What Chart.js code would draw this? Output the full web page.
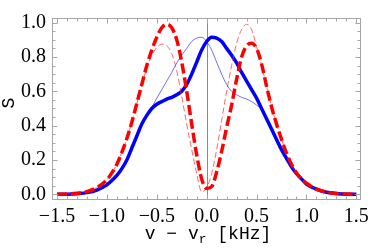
<!DOCTYPE html>
<html>
<head>
<meta charset="utf-8">
<script src="https://cdn.jsdelivr.net/npm/chart.js@4.4.0/dist/chart.umd.min.js"></script>
<style>
    html, body { margin: 0; padding: 0; background: #fff; }
    #wrap { width: 374px; height: 249px; }
</style>
</head>
<body>
<div id="wrap"><canvas id="chart"></canvas></div>
<script>
// detuning v - v_r in kHz
const xs = [-1.5, -1.4, -1.3, -1.2, -1.1,
    -1.0, -0.95, -0.9, -0.85, -0.8, -0.75, -0.7, -0.65, -0.6, -0.55, -0.5, -0.45, -0.4, -0.35, -0.3, -0.25, -0.2, -0.15, -0.1, -0.05,
    0,
    0.05, 0.1, 0.15, 0.2, 0.25, 0.3, 0.35, 0.4, 0.45, 0.5, 0.55, 0.6, 0.65, 0.7, 0.75, 0.8, 0.85, 0.9, 0.95, 1.0,
    1.1, 1.2, 1.3, 1.4, 1.5];

const blueThick = [0, 0.001, 0.004, 0.01, 0.025,
    0.055, 0.08, 0.11, 0.15, 0.20, 0.27, 0.34, 0.41, 0.46, 0.50, 0.525, 0.54, 0.555, 0.565, 0.58, 0.60, 0.64, 0.70, 0.77, 0.84,
    0.89,
    0.915, 0.91, 0.89, 0.85, 0.81, 0.765, 0.71, 0.66, 0.61, 0.56, 0.50, 0.44, 0.38, 0.32, 0.26, 0.21, 0.16, 0.12, 0.09, 0.06,
    0.03, 0.012, 0.005, 0.001, 0];

const blueThin = [0, 0.001, 0.004, 0.01, 0.025,
    0.055, 0.08, 0.11, 0.15, 0.20, 0.27, 0.34, 0.41, 0.46, 0.505, 0.56, 0.61, 0.66, 0.71, 0.765, 0.81, 0.85, 0.89, 0.91, 0.915,
    0.89,
    0.84, 0.77, 0.70, 0.64, 0.60, 0.58, 0.565, 0.555, 0.54, 0.52, 0.495, 0.44, 0.38, 0.32, 0.26, 0.21, 0.16, 0.12, 0.09, 0.06,
    0.03, 0.012, 0.005, 0.001, 0];

const redThick = [0, 0.002, 0.006, 0.016, 0.04,
    0.085, 0.125, 0.175, 0.245, 0.325, 0.42, 0.53, 0.64, 0.75, 0.84, 0.915, 0.97, 0.99, 0.97, 0.90, 0.77, 0.60, 0.41, 0.23, 0.09,
    0.035,
    0.045, 0.13, 0.25, 0.39, 0.52, 0.67, 0.80, 0.865, 0.88, 0.85, 0.76, 0.63, 0.51, 0.41, 0.32, 0.24, 0.175, 0.125, 0.09, 0.065,
    0.03, 0.013, 0.005, 0.002, 0];

const redThin = [0, 0.002, 0.006, 0.016, 0.04,
    0.085, 0.125, 0.175, 0.245, 0.325, 0.42, 0.53, 0.635, 0.735, 0.81, 0.855, 0.875, 0.865, 0.82, 0.72, 0.57, 0.41, 0.26, 0.12, 0.015,
    0.04,
    0.12, 0.26, 0.43, 0.60, 0.75, 0.88, 0.96, 0.99, 0.96, 0.86, 0.75, 0.63, 0.51, 0.41, 0.32, 0.24, 0.175, 0.125, 0.09, 0.065,
    0.03, 0.013, 0.005, 0.002, 0];

const xTicks = [-1.5, -1.0, -0.5, 0, 0.5, 1.0, 1.5];
const yTicks = [0, 0.2, 0.4, 0.6, 0.8, 1.0];

function toPoints(values) {
    return values.map((v, i) => ({ x: xs[i], y: v }));
}

function fmt(v) {
    if (Math.abs(v) < 1e-9) return '0.0';
    return (v < 0 ? '\u2212' : '') + Math.abs(v).toFixed(1);
}

// Mathematica style frame: grey box, ticks pointing inwards, zero line
const framePlugin = {
    id: 'frame',
    beforeDatasetsDraw(chart) {
        const { ctx, chartArea: a, scales: { x } } = chart;
        const x0 = Math.round(x.getPixelForValue(0)) + 0.5;
        ctx.save();
        ctx.strokeStyle = '#8a8a8a';
        ctx.lineWidth = 1;
        ctx.beginPath();
        ctx.moveTo(x0, a.top);
        ctx.lineTo(x0, a.bottom);
        ctx.stroke();
        ctx.restore();
    },
    afterDraw(chart) {
        const { ctx, chartArea: a, scales: { x, y } } = chart;
        ctx.save();
        ctx.strokeStyle = '#a6a6a6';
        ctx.lineWidth = 1;
        const L = Math.round(a.left) + 0.5, R = Math.round(a.right) - 0.5;
        const T = Math.round(a.top) + 0.5, B = Math.round(a.bottom) - 0.5;
        ctx.strokeRect(L, T, R - L, B - T);

        ctx.beginPath();
        for (let i = -15; i <= 15; i++) {
            const px = Math.round(x.getPixelForValue(i / 10)) + 0.5;
            const len = i % 5 === 0 ? 5 : 3;
            ctx.moveTo(px, B); ctx.lineTo(px, B - len);
            ctx.moveTo(px, T); ctx.lineTo(px, T + len);
        }
        for (let i = 0; i <= 20; i++) {
            const py = Math.round(y.getPixelForValue(i * 0.05)) + 0.5;
            const len = i % 4 === 0 ? 5 : 3;
            ctx.moveTo(L, py); ctx.lineTo(L + len, py);
            ctx.moveTo(R, py); ctx.lineTo(R - len, py);
        }
        ctx.stroke();

        // axis titles
        ctx.fillStyle = '#000';
        ctx.font = '18px "Liberation Mono"';
        ctx.save();
        ctx.translate(9, 103);
        ctx.rotate(-Math.PI / 2);
        ctx.textAlign = 'center';
        ctx.textBaseline = 'middle';
        ctx.fillText('S', 0, 0);
        ctx.restore();

        const big = '18px "Liberation Mono"', small = '13px "Liberation Mono"';
        ctx.textAlign = 'left';
        ctx.textBaseline = 'alphabetic';
        ctx.font = big;
        const w1 = ctx.measureText('v \u2212 v').width;
        const w3 = ctx.measureText(' [kHz]').width;
        ctx.font = small;
        const w2 = ctx.measureText('r').width;
        let px = 208 - (w1 + w2 + w3) / 2;
        ctx.font = big;
        ctx.fillText('v \u2212 v', px, 239);
        px += w1;
        ctx.font = small;
        ctx.fillText('r', px, 243);
        px += w2;
        ctx.font = big;
        ctx.fillText(' [kHz]', px, 239);
        ctx.restore();
    }
};

const tickFont = { family: 'Liberation Serif', size: 20 };

new Chart(document.getElementById('chart').getContext('2d'), {
    type: 'line',
    data: {
        datasets: [
            {
                data: toPoints(redThick),
                borderColor: '#ff0000',
                borderWidth: 3.5,
                borderDash: [10, 4],
                order: 0
            },
            {
                data: toPoints(redThin),
                borderColor: 'rgba(255, 40, 40, 0.7)',
                borderWidth: 1,
                borderDash: [6, 3],
                order: 1
            },
            {
                data: toPoints(blueThick),
                borderColor: '#0000ff',
                borderWidth: 3.5,
                order: 2
            },
            {
                data: toPoints(blueThin),
                borderColor: 'rgba(50, 50, 255, 0.7)',
                borderWidth: 1,
                order: 3
            }
        ]
    },
    options: {
        responsive: true,
        maintainAspectRatio: false,
        animation: false,
        elements: { point: { radius: 0 }, line: { cubicInterpolationMode: 'monotone' } },
        layout: { padding: { top: 5, right: 9, left: 0, bottom: 0 } },
        plugins: { legend: { display: false }, tooltip: { enabled: false } },
        scales: {
            x: {
                type: 'linear',
                min: -1.55,
                max: 1.55,
                afterBuildTicks: s => { s.ticks = xTicks.map(v => ({ value: v })); },
                afterFit: s => { s.height = 49; },
                grid: { display: false, drawTicks: false },
                border: { display: false },
                ticks: { font: tickFont, color: '#000', padding: 5, maxRotation: 0, autoSkip: false, callback: v => fmt(v) }
            },
            y: {
                min: -0.033,
                max: 1.027,
                afterBuildTicks: s => { s.ticks = yTicks.map(v => ({ value: v })); },
                afterFit: s => { s.width = 52; },
                grid: { display: false, drawTicks: false },
                border: { display: false },
                ticks: { font: tickFont, color: '#000', padding: 6, autoSkip: false, callback: v => fmt(v) }
            }
        }
    },
    plugins: [framePlugin]
});
</script>
</body>
</html>
